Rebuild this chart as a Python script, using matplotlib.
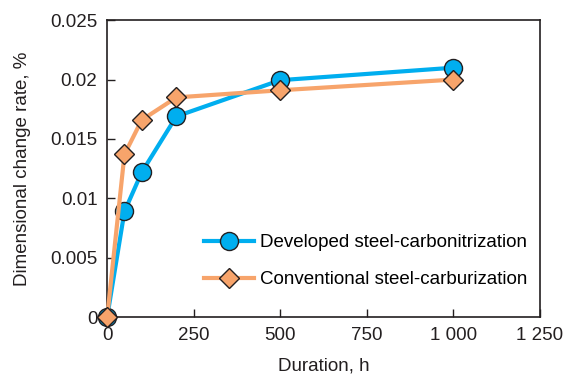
import matplotlib
matplotlib.use("Agg")
import matplotlib.pyplot as plt
from matplotlib.ticker import FixedLocator

plt.rcParams['font.family'] = ['Liberation Sans', 'DejaVu Sans']

duration = [0, 50, 100, 200, 500, 1000]
developed = [0.0, 0.0089, 0.0122, 0.0169, 0.01995, 0.0210]
conventional = [0.0, 0.0137, 0.0166, 0.0185, 0.0191, 0.0200]

xticks = [0, 250, 500, 750, 1000, 1250]
xtick_labels = ["0", "250", "500", "750", "1 000", "1 250"]
yticks = [0, 0.005, 0.01, 0.015, 0.02, 0.025]
ytick_labels = ["0", "0.005", "0.01", "0.015", "0.02", "0.025"]

blue = "#00AEEF"
orange = "#F7A46B"
edge = "#231F20"


def main():
    fig = plt.figure(figsize=(5.67, 3.74), dpi=100)
    ax = fig.add_axes([0.189, 0.152, 0.763, 0.794])

    ax.plot(duration, developed, color=blue, lw=3, marker="o", ms=13,
            mfc=blue, mec=edge, mew=1, label="Developed steel-carbonitrization",
            zorder=3, clip_on=False)
    ax.plot(duration, conventional, color=orange, lw=3, marker="D", ms=10.5,
            mfc=orange, mec=edge, mew=1, label="Conventional steel-carburization",
            zorder=4, clip_on=False)

    ax.set_xlim(0, 1250)
    ax.set_ylim(0, 0.025)
    ax.xaxis.set_major_locator(FixedLocator(xticks))
    ax.set_xticklabels(xtick_labels)
    ax.yaxis.set_major_locator(FixedLocator(yticks))
    ax.set_yticklabels(ytick_labels)
    ax.tick_params(direction="in", length=6, width=1, labelsize=13.5, colors="#231F20")
    ax.tick_params(axis="y", pad=7)
    ax.tick_params(axis="x", pad=7)
    for s in ax.spines.values():
        s.set_linewidth(1.2)
        s.set_color("#231F20")
    ax.set_xlabel("Duration, h", fontsize=13.5, color="#231F20", labelpad=10)
    ax.set_ylabel("Dimensional change rate, %", fontsize=13.5, color="#231F20", labelpad=14)

    ax.legend(loc="lower right", frameon=False, fontsize=13.5, handlelength=2.7,
              labelspacing=1.07, bbox_to_anchor=(1.01, 0.04), handletextpad=0.3)

    fig.savefig("out.png", dpi=100)


if __name__ == "__main__":
    main()
